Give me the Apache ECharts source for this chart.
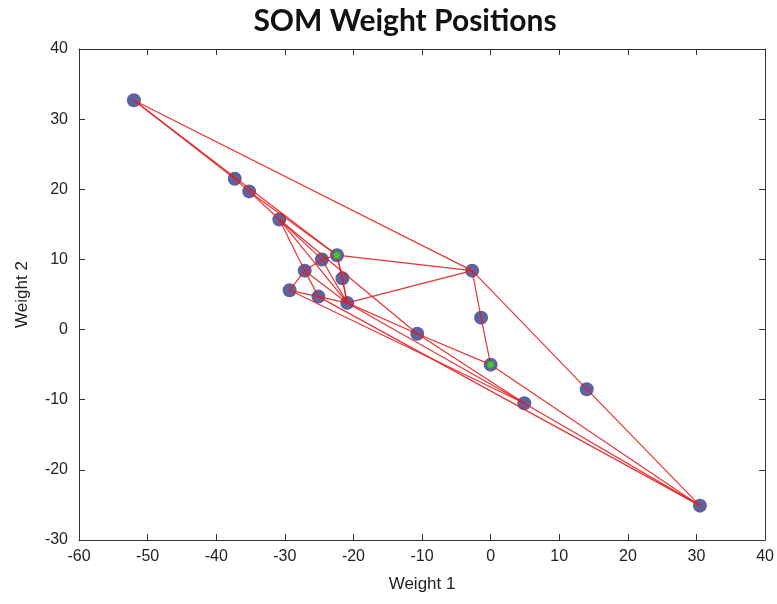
<!DOCTYPE html>
<html>
<head>
<meta charset="UTF-8">
<title>SOM Weight Positions</title>
<script src="https://cdn.jsdelivr.net/npm/echarts@6/dist/echarts.min.js"></script>
<style>
  html, body { margin: 0; padding: 0; background: #fff; }
  #main { width: 777px; height: 604px; }
</style>
</head>
<body>
<div id="main"></div>
<script>
// neuron weight positions (Weight 1, Weight 2)
var neuronX = [-52.0, -37.3, -35.2, -30.8, -24.6, -22.4, -27.1, -21.6, -29.3, -25.1, -20.9, -10.7, -2.7, -1.4, 0.0, 4.9, 14.0, 30.5];
var neuronY = [32.7, 21.5, 19.7, 15.7, 10.0, 10.6, 8.4, 7.3, 5.6, 4.7, 3.8, -0.6, 8.4, 1.7, -5.0, -10.5, -8.5, -25.1];

// neighbour links between neurons (indexes into the arrays above)
var links = [
  [0, 1], [0, 5], [0, 12], [1, 2], [2, 3], [2, 5], [3, 4], [3, 6], [3, 10], [3, 11],
  [4, 5], [4, 6], [4, 10], [5, 7], [5, 10], [5, 12], [6, 8], [6, 9], [6, 10],
  [7, 10], [8, 9], [8, 15], [9, 10], [9, 17], [10, 11], [10, 12], [10, 15],
  [11, 14], [11, 15], [12, 13], [13, 14], [12, 16], [16, 17], [14, 17], [15, 17]
];

// input vectors
var inputX = [-22.4, 0.0];
var inputY = [10.6, -5.0];

var xTicks = { min: -60, max: 40, interval: 10 };
var yTicks = { min: -30, max: 40, interval: 10 };

var neuronData = neuronX.map(function (x, i) { return [x, neuronY[i]]; });
var inputData = inputX.map(function (x, i) { return [x, inputY[i]]; });

var FONT = "'Liberation Sans', Arial, sans-serif";
var axisLine = { show: true, onZero: false, lineStyle: { color: '#333', width: 1 } };
var tickIn = { show: true, inside: true, length: 6, lineStyle: { color: '#333' } };
var labelFont = { color: '#222', fontSize: 16, fontFamily: FONT };

var series = [{
  name: 'neurons',
  type: 'scatter',
  data: neuronData,
  symbol: 'circle',
  symbolSize: 14,
  itemStyle: { color: '#5e63a0', opacity: 1 },
  z: 2
}];

links.forEach(function (l, k) {
  series.push({
    name: 'link' + k,
    type: 'line',
    data: [neuronData[l[0]], neuronData[l[1]]],
    showSymbol: false,
    symbol: 'none',
    lineStyle: { color: '#e41e1e', width: 1.2, opacity: 0.9 },
    silent: true,
    z: 3
  });
});

series.push({
  name: 'inputs',
  type: 'scatter',
  data: inputData,
  symbol: 'circle',
  symbolSize: 7,
  itemStyle: { color: '#2ee82e', borderColor: '#2a9a3a', borderWidth: 1 },
  z: 4
});

var chart = echarts.init(document.getElementById('main'));

chart.setOption({
  animation: false,
  backgroundColor: '#fff',
  title: {
    text: 'SOM Weight Positions',
    left: 400,
    textAlign: 'center',
    top: 1,
    textStyle: { fontSize: 30, fontWeight: 'bold', color: '#111', fontFamily: "Lato, 'Open Sans', sans-serif" }
  },
  grid: { left: 79, right: 11, top: 49, bottom: 64, show: false },
  xAxis: [{
    type: 'value', min: xTicks.min, max: xTicks.max, interval: xTicks.interval,
    position: 'bottom',
    name: 'Weight 1', nameLocation: 'middle', nameGap: 36,
    nameTextStyle: { color: '#222', fontSize: 17, fontFamily: FONT },
    axisLine: axisLine, axisTick: tickIn,
    axisLabel: Object.assign({ margin: 9 }, labelFont),
    splitLine: { show: false }
  }, {
    type: 'value', min: xTicks.min, max: xTicks.max, interval: xTicks.interval,
    position: 'top',
    axisLine: axisLine, axisTick: tickIn,
    axisLabel: { show: false }, splitLine: { show: false }
  }],
  yAxis: [{
    type: 'value', min: yTicks.min, max: yTicks.max, interval: yTicks.interval,
    position: 'left',
    name: 'Weight 2', nameLocation: 'middle', nameGap: 48, nameRotate: 90,
    nameTextStyle: { color: '#222', fontSize: 17, fontFamily: FONT },
    axisLine: axisLine, axisTick: tickIn,
    axisLabel: Object.assign({ margin: 11 }, labelFont),
    splitLine: { show: false }
  }, {
    type: 'value', min: yTicks.min, max: yTicks.max, interval: yTicks.interval,
    position: 'right',
    axisLine: axisLine, axisTick: tickIn,
    axisLabel: { show: false }, splitLine: { show: false }
  }],
  series: series
});
</script>
</body>
</html>
